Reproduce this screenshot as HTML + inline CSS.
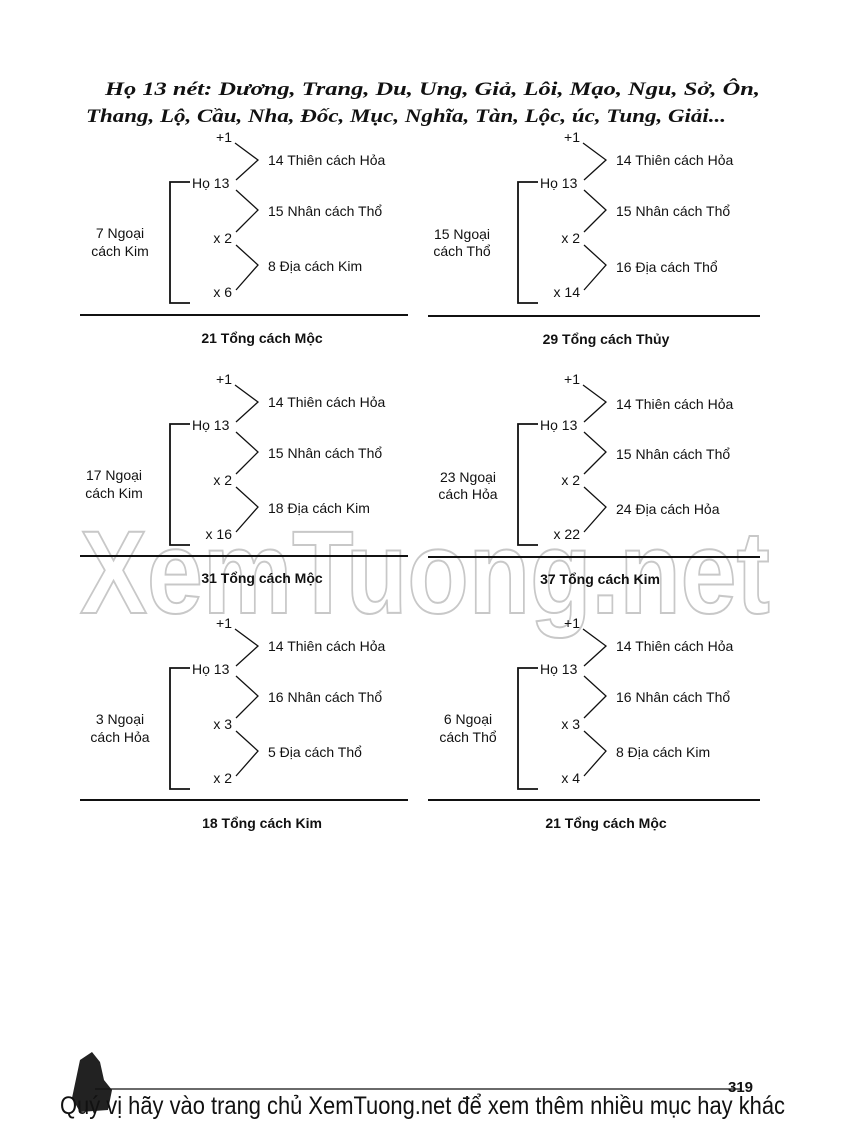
<!DOCTYPE html>
<html><head><meta charset="utf-8"><style>
html,body{margin:0;padding:0;background:#fff;}
svg{display:block;}
text{font-family:"Liberation Sans",sans-serif;font-size:14px;fill:#111;}
.b{font-weight:bold;}
.t{font-family:"Liberation Serif",serif;font-style:italic;font-weight:bold;font-size:19px;}
.w{font-family:"Liberation Sans Narrow","Liberation Sans",sans-serif;font-weight:bold;font-size:118px;fill:#fff;stroke:#c8c8c8;stroke-width:2;}
.f{font-family:"Liberation Sans Narrow","Liberation Sans",sans-serif;font-size:25px;}
</style></head><body>
<svg width="850" height="1127" viewBox="0 0 850 1127" xmlns="http://www.w3.org/2000/svg">
<defs>
<g id="p" fill="none" stroke="#111" stroke-width="1.3">
<path d="M190,182 H170 V303 H190" stroke-width="1.8"/>
<path d="M235,143 L258,160 L236,180 M236,190 L258,210 L236,232 M236,245 L258,265 L236,290"/>
</g>
</defs>
<text x="105" y="95" class="t" textLength="655" lengthAdjust="spacingAndGlyphs">Họ 13 nét: Dương, Trang, Du, Ung, Giả, Lôi, Mạo, Ngu, Sở, Ôn,</text>
<text x="86" y="122" class="t" textLength="640" lengthAdjust="spacingAndGlyphs">Thang, Lộ, Cầu, Nha, Đốc, Mục, Nghĩa, Tàn, Lộc, úc, Tung, Giải...</text>

<text x="80" y="613" class="w" textLength="690" lengthAdjust="spacingAndGlyphs">XemTuong.net</text>

<g stroke="#111" stroke-width="2">
<line x1="80" y1="315" x2="408" y2="315"/><line x1="428" y1="316" x2="760" y2="316"/>
<line x1="80" y1="556" x2="408" y2="556"/><line x1="428" y1="557" x2="760" y2="557"/>
<line x1="80" y1="800" x2="408" y2="800"/><line x1="428" y1="800" x2="760" y2="800"/>
</g>

<use href="#p"/>
<use href="#p" transform="translate(348,0)"/>
<use href="#p" transform="translate(0,242)"/>
<use href="#p" transform="translate(348,242)"/>
<use href="#p" transform="translate(0,486)"/>
<use href="#p" transform="translate(348,486)"/>

<g>
<text x="232" y="142" text-anchor="end">+1</text>
<text x="192" y="188">Họ 13</text>
<text x="232" y="243" text-anchor="end">x 2</text>
<text x="232" y="297" text-anchor="end">x 6</text>
<text x="268" y="165">14 Thiên cách Hỏa</text>
<text x="268" y="216">15 Nhân cách Thổ</text>
<text x="268" y="271">8 Địa cách Kim</text>
<text x="120" y="238" text-anchor="middle">7 Ngoại</text>
<text x="120" y="256" text-anchor="middle">cách Kim</text>
<text x="262" y="343" text-anchor="middle" class="b">21 Tổng cách Mộc</text>
</g>
<g transform="translate(348,0)">
<text x="232" y="142" text-anchor="end">+1</text>
<text x="192" y="188">Họ 13</text>
<text x="232" y="243" text-anchor="end">x 2</text>
<text x="232" y="297" text-anchor="end">x 14</text>
<text x="268" y="165">14 Thiên cách Hỏa</text>
<text x="268" y="216">15 Nhân cách Thổ</text>
<text x="268" y="272">16 Địa cách Thổ</text>
<text x="114" y="239" text-anchor="middle">15 Ngoại</text>
<text x="114" y="256" text-anchor="middle">cách Thổ</text>
<text x="258" y="344" text-anchor="middle" class="b">29 Tổng cách Thủy</text>
</g>
<g transform="translate(0,242)">
<text x="232" y="142" text-anchor="end">+1</text>
<text x="192" y="188">Họ 13</text>
<text x="232" y="243" text-anchor="end">x 2</text>
<text x="232" y="297" text-anchor="end">x 16</text>
<text x="268" y="165">14 Thiên cách Hỏa</text>
<text x="268" y="216">15 Nhân cách Thổ</text>
<text x="268" y="271">18 Địa cách Kim</text>
<text x="114" y="238" text-anchor="middle">17 Ngoại</text>
<text x="114" y="256" text-anchor="middle">cách Kim</text>
<text x="262" y="341" text-anchor="middle" class="b">31 Tổng cách Mộc</text>
</g>
<g transform="translate(348,242)">
<text x="232" y="142" text-anchor="end">+1</text>
<text x="192" y="188">Họ 13</text>
<text x="232" y="243" text-anchor="end">x 2</text>
<text x="232" y="297" text-anchor="end">x 22</text>
<text x="268" y="167">14 Thiên cách Hỏa</text>
<text x="268" y="217">15 Nhân cách Thổ</text>
<text x="268" y="272">24 Địa cách Hỏa</text>
<text x="120" y="240" text-anchor="middle">23 Ngoại</text>
<text x="120" y="257" text-anchor="middle">cách Hỏa</text>
<text x="252" y="342" text-anchor="middle" class="b">37 Tổng cách Kim</text>
</g>
<g transform="translate(0,486)">
<text x="232" y="142" text-anchor="end">+1</text>
<text x="192" y="188">Họ 13</text>
<text x="232" y="243" text-anchor="end">x 3</text>
<text x="232" y="297" text-anchor="end">x 2</text>
<text x="268" y="165">14 Thiên cách Hỏa</text>
<text x="268" y="216">16 Nhân cách Thổ</text>
<text x="268" y="271">5 Địa cách Thổ</text>
<text x="120" y="238" text-anchor="middle">3 Ngoại</text>
<text x="120" y="256" text-anchor="middle">cách Hỏa</text>
<text x="262" y="342" text-anchor="middle" class="b">18 Tổng cách Kim</text>
</g>
<g transform="translate(348,486)">
<text x="232" y="142" text-anchor="end">+1</text>
<text x="192" y="188">Họ 13</text>
<text x="232" y="243" text-anchor="end">x 3</text>
<text x="232" y="297" text-anchor="end">x 4</text>
<text x="268" y="165">14 Thiên cách Hỏa</text>
<text x="268" y="216">16 Nhân cách Thổ</text>
<text x="268" y="271">8 Địa cách Kim</text>
<text x="120" y="238" text-anchor="middle">6 Ngoại</text>
<text x="120" y="256" text-anchor="middle">cách Thổ</text>
<text x="258" y="342" text-anchor="middle" class="b">21 Tổng cách Mộc</text>
</g>

<path d="M72,1098 L80,1060 L92,1052 L100,1062 L104,1080 L112,1090 L108,1110 L80,1112 Z" fill="#222"/>
<line x1="95" y1="1089" x2="740" y2="1089" stroke="#111" stroke-width="1.2"/>
<text x="728" y="1092" class="b" style="font-size:15px">319</text>
<text x="60" y="1114" class="f" textLength="725" lengthAdjust="spacingAndGlyphs">Quý vị hãy vào trang chủ XemTuong.net để xem thêm nhiều mục hay khác</text>
</svg>
</body></html>
